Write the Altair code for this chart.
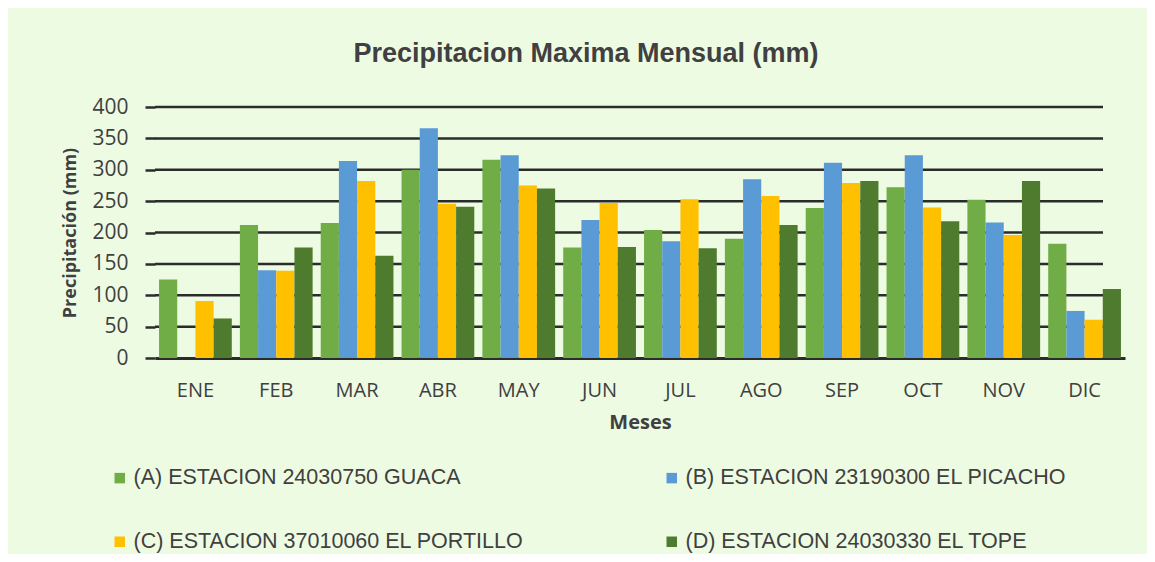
import altair as alt
import pandas as pd

months = ["ENE", "FEB", "MAR", "ABR", "MAY", "JUN", "JUL", "AGO", "SEP", "OCT", "NOV", "DIC"]
series = [
    "(A) ESTACION 24030750  GUACA",
    "(B) ESTACION 23190300  EL PICACHO",
    "(C) ESTACION 37010060 EL PORTILLO",
    "(D) ESTACION 24030330  EL TOPE",
]
colors = ["#70AD47", "#5B9BD5", "#FFC000", "#4F7B2F"]
y_ticks = [0, 50, 100, 150, 200, 250, 300, 350, 400]

guaca = [125, 212, 215, 300, 316, 176, 204, 190, 239, 272, 252, 182]
picacho = [None, 140, 314, 366, 323, 220, 186, 285, 311, 323, 216, 75]
portillo = [91, 139, 282, 246, 275, 247, 253, 258, 279, 240, 196, 61]
tope = [63, 176, 163, 241, 270, 177, 175, 212, 282, 218, 282, 110]

values = [guaca, picacho, portillo, tope]
rows = []
for s, vals in zip(series, values):
    for m, v in zip(months, vals):
        rows.append({"Mes": m, "Serie": s, "Valor": v})
df = pd.DataFrame(rows)
grid_df = pd.DataFrame({"Valor": y_ticks[1:]})

# legend fills column-first: order domain so rows read A|B, C|D
legend_order = [series[0], series[2], series[1], series[3]]
legend_colors = [colors[0], colors[2], colors[1], colors[3]]

txt = "#404040"
yscale = alt.Scale(domain=[0, 400], nice=False)
yaxis = alt.Axis(values=y_ticks, title="Precipitación (mm)",
                 grid=False, domain=False,
                 tickColor="#2b2b2b", tickWidth=2.5, tickSize=10,
                 labelPadding=17, labelFont="Open Sans", labelFontSize=21,
                 labelColor=txt, titleFont="Open Sans", titleFontSize=18,
                 titleFontWeight="bold", titleColor=txt, titlePadding=12)

grid = alt.Chart(grid_df).mark_rule(color="#2b2b2b", strokeWidth=2.5).encode(
    y=alt.Y("Valor:Q", scale=yscale, axis=yaxis),
    x=alt.value(0),
    x2=alt.value(948),
)

bars = alt.Chart(df).mark_bar().encode(
    x=alt.X("Mes:N", sort=months,
            scale=alt.Scale(paddingInner=0.1, paddingOuter=0.05),
            axis=alt.Axis(title="Meses", labelAngle=0, ticks=False, grid=False,
                          domainColor="#2b2b2b", domainWidth=3,
                          labelPadding=22, labelFont="Open Sans", labelFontSize=20,
                          labelColor=txt, titleFont="Open Sans", titleFontSize=20,
                          titleFontWeight="bold", titleColor=txt, titlePadding=12)),
    xOffset=alt.XOffset("Serie:N", sort=series,
                        scale=alt.Scale(paddingInner=0, paddingOuter=0)),
    y=alt.Y("Valor:Q", scale=yscale, axis=yaxis),
    color=alt.Color("Serie:N",
                    scale=alt.Scale(domain=legend_order, range=legend_colors),
                    legend=alt.Legend(title=None, orient="none", legendX=-46, legendY=360,
                                      columns=2, columnPadding=137, rowPadding=41,
                                      symbolType="square", symbolSize=110,
                                      symbolStrokeWidth=0, labelOffset=3,
                                      labelFont="Liberation Sans", labelFontSize=21.5,
                                      labelColor=txt, labelLimit=600)),
)

chart = alt.layer(grid, bars).properties(
    width=970,
    height=251,
    title=alt.TitleParams("Precipitacion Maxima Mensual (mm)",
                          font="Liberation Sans",
                          fontSize=27, fontWeight="bold", color=txt, anchor="middle",
                          dx=-54, offset=28),
    padding={"left": 147, "top": 99, "right": 22, "bottom": 196},
    autosize=alt.AutoSizeParams(type="none"),
    background="#EEFBE3",
).configure_view(stroke=None)

chart.save("out.html", embed_options={"renderer": "svg", "actions": False})
